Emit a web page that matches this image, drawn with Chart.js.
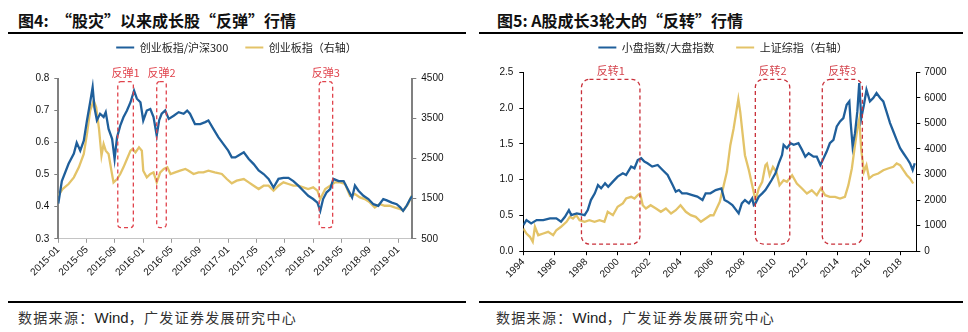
<!DOCTYPE html>
<html>
<head>
<meta charset="utf-8">
<script src="https://cdn.jsdelivr.net/npm/chart.js@4.4.1/dist/chart.umd.min.js"></script>
<style>
  html, body { margin: 0; padding: 0; background: #fff; }
  body { width: 968px; height: 332px; position: relative; overflow: hidden; }
  .title { position: absolute; top: 9px; font: 700 16px/22px "Noto Sans CJK SC", "Liberation Sans", sans-serif; color: #111; white-space: nowrap; }
  .rule { position: absolute; height: 2px; background: #000; }
  .src { position: absolute; top: 307px; font: 400 14px/20px "Noto Sans CJK SC", sans-serif; color: #333; letter-spacing: 1.3px; white-space: nowrap; }
  .src .w { font-family: "Liberation Sans", Arial, sans-serif; font-size: 15px; letter-spacing: 0; color: #222; }
  canvas { position: absolute; }
</style>
</head>
<body>
<div class="title" style="left:18px">图4:&nbsp;&nbsp;“股灾”以来成长股“反弹”行情</div>
<div class="title" style="left:497px">图5:&nbsp;A股成长3轮大的“反转”行情</div>
<div class="rule" style="left:8px; top:32px; width:458px"></div>
<div class="rule" style="left:479px; top:32px; width:484px"></div>
<div class="rule" style="left:8px; top:301px; width:458px"></div>
<div class="rule" style="left:479px; top:301px; width:484px"></div>
<div class="src" style="left:18px">数据来源：<span class="w">Wind</span>，广发证券发展研究中心</div>
<div class="src" style="left:496px">数据来源：<span class="w">Wind</span>，广发证券发展研究中心</div>

<canvas id="c1" width="473" height="290" style="left:0px; top:24.5px"></canvas>
<canvas id="c2" width="478" height="300" style="left:484px; top:19.5px"></canvas>

<script>
// ---------- Figure 4 data (x = months since 2015-01) ----------
const leftTickLabels = ['2015-01','2015-05','2015-09','2016-01','2016-05','2016-09','2017-01','2017-05','2017-09','2018-01','2018-05','2018-09','2019-01'];
const leftSeriesNames = ['创业板指/沪深300', '创业板指（右轴）'];

const leftRatioMonths = [
  0, 0.5, 1.45, 2.2, 2.6, 3.1, 3.6, 4.05, 4.5, 4.85,
  5.1, 5.45, 5.9, 6.4, 6.7, 7.1, 7.6, 7.95, 8.3, 8.75,
  9.2, 9.7, 10.2, 10.7, 11.1, 11.6, 12.0, 12.5, 13.0, 13.45,
  13.9, 14.25, 14.6, 15.1, 15.6, 16.3, 17.0, 17.7, 18.2, 18.6,
  19.3, 20.05, 20.75, 21.2, 21.9, 22.6, 23.3, 24.0, 24.5, 25.0,
  25.45, 26.2, 26.9, 27.6, 28.3, 29.0, 29.7, 30.4, 31.1, 31.8,
  32.5, 33.2, 33.9, 34.6, 35.3, 36.0, 36.6, 37.0, 37.4, 37.9,
  38.4, 38.85, 39.6, 40.3, 41.0, 41.5, 41.9, 42.4, 43.1, 43.8,
  44.5, 45.2, 45.9, 46.4, 47.1, 47.8, 48.3, 48.7, 49.2, 49.7,
  50.0
];
const leftRatio = [
  0.41, 0.48, 0.534, 0.566, 0.60, 0.575, 0.606, 0.669, 0.726, 0.773,
  0.71, 0.67, 0.69, 0.68, 0.695, 0.643, 0.612, 0.549, 0.617, 0.653,
  0.679, 0.70, 0.726, 0.762, 0.737, 0.726, 0.669, 0.70, 0.705, 0.68,
  0.622, 0.67, 0.69, 0.70, 0.674, 0.684, 0.695, 0.69, 0.70, 0.69,
  0.658, 0.658, 0.664, 0.669, 0.643, 0.617, 0.596, 0.575, 0.554, 0.554,
  0.56, 0.57, 0.549, 0.533, 0.513, 0.502, 0.487, 0.46, 0.487, 0.49,
  0.49, 0.48, 0.466, 0.45, 0.434, 0.424, 0.413, 0.387, 0.424, 0.445,
  0.455, 0.487, 0.48, 0.48, 0.45, 0.429, 0.466, 0.45, 0.434, 0.424,
  0.408, 0.403, 0.424, 0.42, 0.413, 0.408, 0.398, 0.387, 0.403, 0.424,
  0.434
];

const leftCybMonths = [
  0, 0.6, 1.45, 2.2, 2.9, 3.6, 4.05, 4.5, 5.0, 5.35,
  5.75, 6.1, 6.4, 6.7, 7.1, 7.5, 7.8, 8.3, 8.75, 9.2,
  9.7, 10.2, 10.5, 10.9, 11.4, 11.8, 12.0, 12.5, 13.0, 13.45,
  13.9, 14.4, 14.9, 15.4, 15.85, 16.5, 17.2, 17.95, 18.4, 19.1,
  19.8, 20.5, 21.2, 22.1, 23.1, 23.8, 24.5, 25.2, 26.2, 26.9,
  27.6, 28.3, 29.0, 29.7, 30.4, 31.1, 31.8, 32.5, 33.2, 33.9,
  34.6, 35.3, 36.0, 36.6, 37.0, 37.7, 38.4, 39.1, 39.8, 40.5,
  41.2, 41.9, 42.6, 43.3, 44.0, 44.7, 45.4, 46.1, 46.8, 47.5,
  48.3, 48.7, 49.4, 49.9
];
const leftCyb = [
  1575, 1742, 1867, 2033, 2283, 2617, 3117, 3700, 3950, 3783,
  3242, 2575, 2867, 2700, 2617, 2200, 1908, 1992, 2117, 2283,
  2492, 2700, 2742, 2658, 2783, 2700, 2200, 2033, 2117, 2158,
  1908, 2158, 2242, 2283, 2117, 2158, 2200, 2242, 2200, 2117,
  2158, 2158, 2200, 2158, 2117, 1992, 1883, 1950, 1992, 1908,
  1825, 1742, 1825, 1825, 1700, 1825, 1908, 1867, 1825, 1825,
  1783, 1742, 1783, 1700, 1492, 1742, 1825, 1908, 1908, 1867,
  1575, 1617, 1533, 1492, 1408, 1283, 1367, 1325, 1325, 1283,
  1242, 1200, 1367, 1575
];

const leftBoxLabels = ['反弹1', '反弹2', '反弹3'];
const leftBoxStart = [8.4, 13.9, 36.85];
const leftBoxEnd = [10.6, 15.25, 38.75];
const leftBoxRange = [0.335, 0.79];

// ---------- Figure 5 data (x = year) ----------
const rightTickLabels = ['1994','1996','1998','2000','2002','2004','2006','2008','2010','2012','2014','2016','2018'];
const rightSeriesNames = ['小盘指数/大盘指数', '上证综指（右轴）'];

const rightRatioYears = [
  1994.0, 1994.2, 1994.5, 1994.85, 1995.27, 1995.7, 1996.1, 1996.4, 1996.65, 1996.9,
  1997.05, 1997.4, 1997.7, 1997.9, 1998.1, 1998.3, 1998.55, 1998.75, 1998.95, 1999.2,
  1999.4, 1999.7, 2000.0, 2000.33, 2000.54, 2000.86, 2001.07, 2001.28, 2001.5, 2001.7,
  2001.9, 2002.2, 2002.55, 2002.86, 2003.18, 2003.5, 2003.7, 2003.9, 2004.1, 2004.4,
  2004.75, 2005.07, 2005.4, 2005.6, 2005.9, 2006.24, 2006.6, 2006.8, 2007.0, 2007.3,
  2007.7, 2007.9, 2008.1, 2008.35, 2008.56, 2008.66, 2008.77, 2008.98, 2009.2, 2009.4,
  2009.6, 2009.8, 2010.04, 2010.25, 2010.46, 2010.56, 2010.77, 2011.0, 2011.2, 2011.5,
  2011.73, 2011.94, 2012.15, 2012.46, 2012.67, 2012.9, 2013.1, 2013.3, 2013.5, 2013.73,
  2013.94, 2014.15, 2014.36, 2014.57, 2014.74, 2014.82, 2014.95, 2015.1, 2015.25, 2015.37,
  2015.5, 2015.67, 2015.83, 2016.05, 2016.26, 2016.47, 2016.7, 2016.9, 2017.1, 2017.33,
  2017.54, 2017.75, 2017.97, 2018.18, 2018.4, 2018.6, 2018.77, 2018.9
];
const rightRatio = [
  0.364, 0.434, 0.388, 0.434, 0.434, 0.458, 0.458, 0.411, 0.48, 0.574,
  0.504, 0.528, 0.514, 0.504, 0.574, 0.714, 0.808, 0.924, 0.878, 0.948,
  0.90, 0.972, 1.042, 1.088, 1.064, 1.182, 1.158, 1.274, 1.298, 1.252,
  1.228, 1.182, 1.204, 1.134, 1.064, 0.924, 0.832, 0.854, 0.808, 0.808,
  0.784, 0.762, 0.714, 0.808, 0.808, 0.854, 0.878, 0.714, 0.692, 0.644,
  0.528, 0.668, 0.714, 0.668, 0.738, 0.644, 0.668, 0.762, 0.808, 0.854,
  0.924, 0.994, 1.088, 1.228, 1.345, 1.485, 1.438, 1.508, 1.485, 1.508,
  1.415, 1.32, 1.368, 1.32, 1.32, 1.205, 1.298, 1.392, 1.508, 1.555,
  1.742, 1.812, 1.859, 2.045, 2.092, 1.812, 1.462, 1.648, 1.952, 2.349,
  1.859, 2.045, 2.255, 2.092, 2.139, 2.209, 2.139, 2.092, 1.952, 1.789,
  1.672, 1.555, 1.438, 1.368, 1.298, 1.228, 1.134, 1.228
];

const rightShYears = [
  1994.0, 1994.2, 1994.42, 1994.6, 1994.74, 1994.95, 1995.27, 1995.58, 1995.9, 1996.1,
  1996.4, 1996.75, 1996.96, 1997.16, 1997.37, 1997.58, 1997.9, 1998.2, 1998.53, 1998.85,
  1999.16, 1999.37, 1999.7, 2000.0, 2000.33, 2000.54, 2000.86, 2001.07, 2001.28, 2001.43,
  2001.6, 2001.8, 2002.1, 2002.44, 2002.75, 2003.07, 2003.4, 2003.7, 2004.0, 2004.34,
  2004.65, 2004.97, 2005.3, 2005.6, 2005.9, 2006.1, 2006.3, 2006.5, 2006.75, 2006.95,
  2007.17, 2007.38, 2007.55, 2007.68, 2007.8, 2007.96, 2008.1, 2008.35, 2008.56, 2008.77,
  2008.98, 2009.2, 2009.4, 2009.5, 2009.67, 2009.88, 2010.1, 2010.3, 2010.56, 2010.77,
  2011.1, 2011.4, 2011.73, 2012.04, 2012.35, 2012.67, 2012.93, 2013.2, 2013.5, 2013.83,
  2014.15, 2014.46, 2014.68, 2014.9, 2015.1, 2015.25, 2015.37, 2015.5, 2015.67, 2015.83,
  2016.0, 2016.26, 2016.58, 2016.9, 2017.2, 2017.54, 2017.75, 2017.97, 2018.18, 2018.4,
  2018.6, 2018.8
];
const rightSh = [
  888, 692, 563, 368, 954, 626, 692, 759, 626, 821,
  954, 1150, 1345, 1279, 1408, 1212, 1150, 1212, 1150, 1212,
  1150, 1540, 1408, 1736, 1865, 2060, 2127, 2060, 2190, 2256,
  1799, 1670, 1799, 1670, 1540, 1670, 1474, 1603, 1799, 1540,
  1408, 1345, 1150, 1279, 1408, 1400, 1670, 1932, 2581, 3104,
  4145, 4798, 5450, 5950, 5450, 4536, 3754, 3167, 2581, 1994,
  2452, 2713, 3363, 3429, 2972, 3300, 3104, 2581, 2776, 2713,
  2972, 2647, 2452, 2256, 2385, 2190, 2452, 2190, 2127, 2127,
  2060, 2127, 2581, 3234, 4145, 4798, 5150, 3950, 3104, 3363,
  2843, 2972, 3038, 3167, 3234, 3300, 3429, 3363, 3167, 2972,
  2843, 2647
];

const rightBoxLabels = ['反转1', '反转2', '反转3'];
const rightBoxStart = [1997.7, 2008.76, 2013.02];
const rightBoxEnd = [2001.42, 2010.95, 2015.57];
const rightBoxRange = [0.1, 2.4];

// ---------- helpers ----------
const BLUE = '#1f5f9b';
const YELLOW = '#e3c368';
const TICK_FONT = { family: '"Liberation Sans", Arial, sans-serif', size: 10 };
const CJK = '"Noto Sans CJK SC", sans-serif';
const pts = (xs, ys) => xs.map((x, i) => ({ x: x, y: ys[i] }));
const monthIndex = s => { const [y, m] = s.split('-').map(Number); return (y - 2015) * 12 + (m - 1); };

const boxPlugin = {
  id: 'boxes',
  afterDatasetsDraw(chart, args, o) {
    const { ctx } = chart;
    const x = chart.scales.x, y = chart.scales.y;
    ctx.save();
    o.starts.forEach((s, i) => {
      const x0 = x.getPixelForValue(s), x1 = x.getPixelForValue(o.ends[i]);
      const yTop = y.getPixelForValue(o.range[1]), yBot = y.getPixelForValue(o.range[0]);
      ctx.beginPath();
      ctx.setLineDash(o.dash);
      ctx.lineWidth = o.lineWidth;
      ctx.strokeStyle = o.color;
      if (ctx.roundRect) ctx.roundRect(x0, yTop, x1 - x0, yBot - yTop, o.radius);
      else ctx.rect(x0, yTop, x1 - x0, yBot - yTop);
      ctx.stroke();
      ctx.setLineDash([]);
      ctx.fillStyle = o.labelColor;
      ctx.font = '11px ' + CJK;
      ctx.textAlign = 'center';
      ctx.textBaseline = 'middle';
      ctx.fillText(o.labels[i], (x0 + x1) / 2, yTop - 8.5);
    });
    ctx.restore();
  }
};

function legendOpts(pad) {
  return {
    display: true,
    position: 'top',
    weight: 3000,
    labels: {
      boxWidth: 18,
      boxHeight: 2,
      padding: pad,
      color: '#222',
      font: { family: CJK, size: 11 },
      generateLabels(chart) {
        return Chart.defaults.plugins.legend.labels.generateLabels(chart).map(l => Object.assign(l, { lineWidth: 0, fillStyle: l.strokeStyle }));
      }
    }
  };
}

function fixW(w) { return s => { s.width = w; }; }
function fixH(h) { return s => { s.height = h; }; }

// ---------- Figure 4 ----------
new Chart(document.getElementById('c1'), {
  type: 'line',
  data: {
    datasets: [
      { label: leftSeriesNames[0], data: pts(leftRatioMonths, leftRatio), yAxisID: 'y', borderColor: BLUE, backgroundColor: BLUE, borderWidth: 2.3, pointRadius: 0, order: 1 },
      { label: leftSeriesNames[1], data: pts(leftCybMonths, leftCyb), yAxisID: 'y1', borderColor: YELLOW, backgroundColor: YELLOW, borderWidth: 2.3, pointRadius: 0, order: 2 }
    ]
  },
  options: {
    responsive: false,
    animation: false,
    events: [],
    layout: { padding: 0 },
    plugins: {
      legend: legendOpts(17),
      subtitle: { display: true, text: '', font: { size: 1, lineHeight: 1 }, padding: { top: 14.5, bottom: 0 } },
      tooltip: { enabled: false },
      boxes: { starts: leftBoxStart, ends: leftBoxEnd, range: leftBoxRange, labels: leftBoxLabels, color: '#e0434c', labelColor: '#e0434c', dash: [4, 3], lineWidth: 1.3, radius: 3 }
    },
    scales: {
      x: {
        type: 'linear', min: 0, max: 50,
        afterBuildTicks: s => { s.ticks = leftTickLabels.map(l => ({ value: monthIndex(l) })); },
        afterFit: fixH(76.2),
        ticks: { autoSkip: false, minRotation: 45, maxRotation: 45, padding: 1, color: '#111', font: TICK_FONT,
          callback: v => leftTickLabels.find(l => monthIndex(l) === v) || '' },
        grid: { drawOnChartArea: false, drawTicks: true, tickLength: 4, tickColor: '#9a9a9a' },
        border: { display: true, color: '#c4c4c4', width: 1 }
      },
      y: {
        position: 'left', min: 0.3, max: 0.8,
        afterFit: fixW(58.3),
        ticks: { stepSize: 0.1, padding: 5, color: '#111', font: TICK_FONT, callback: v => Number(v).toFixed(1) },
        grid: { drawOnChartArea: false, drawTicks: true, tickLength: 4, tickColor: '#7f7f7f' },
        border: { display: true, color: '#808080', width: 2 }
      },
      y1: {
        position: 'right', min: 500, max: 4500,
        afterFit: fixW(60.7),
        ticks: { stepSize: 1000, padding: 5, color: '#111', font: TICK_FONT, callback: v => String(Math.round(v)) },
        grid: { drawOnChartArea: false, drawTicks: true, tickLength: 4, tickColor: '#7f7f7f' },
        border: { display: true, color: '#808080', width: 2 }
      }
    }
  },
  plugins: [boxPlugin]
});

// ---------- Figure 5 ----------
new Chart(document.getElementById('c2'), {
  type: 'line',
  data: {
    datasets: [
      { label: rightSeriesNames[0], data: pts(rightRatioYears, rightRatio), yAxisID: 'y', borderColor: BLUE, backgroundColor: BLUE, borderWidth: 2.3, pointRadius: 0, order: 1 },
      { label: rightSeriesNames[1], data: pts(rightShYears, rightSh), yAxisID: 'y1', borderColor: YELLOW, backgroundColor: YELLOW, borderWidth: 2.3, pointRadius: 0, order: 2 }
    ]
  },
  options: {
    responsive: false,
    animation: false,
    events: [],
    layout: { padding: 0 },
    plugins: {
      legend: legendOpts(22),
      subtitle: { display: true, text: '', font: { size: 1, lineHeight: 1 }, padding: { top: 8.2, bottom: 0 } },
      tooltip: { enabled: false },
      boxes: { starts: rightBoxStart, ends: rightBoxEnd, range: rightBoxRange, labels: rightBoxLabels, color: '#c9303a', labelColor: '#d4454e', dash: [4, 3], lineWidth: 1.3, radius: 8 }
    },
    scales: {
      x: {
        type: 'linear', min: 1994, max: 2019,
        afterBuildTicks: s => { s.ticks = rightTickLabels.map(l => ({ value: Number(l) })); },
        afterFit: fixH(68.8),
        ticks: { autoSkip: false, minRotation: 45, maxRotation: 45, padding: 1, color: '#111', font: TICK_FONT,
          callback: v => String(v) },
        grid: { drawOnChartArea: false, drawTicks: true, tickLength: 4, tickColor: '#000' },
        border: { display: true, color: '#000', width: 1 }
      },
      y: {
        position: 'left', min: 0, max: 2.5,
        afterFit: fixW(39.3),
        ticks: { stepSize: 0.5, padding: 6, color: '#111', font: TICK_FONT, callback: v => Number(v).toFixed(1) },
        grid: { drawOnChartArea: false, drawTicks: true, tickLength: 4, tickColor: '#000' },
        border: { display: true, color: '#000', width: 1 }
      },
      y1: {
        position: 'right', min: 0, max: 7000,
        afterFit: fixW(45.7),
        ticks: { stepSize: 1000, padding: 4, color: '#111', font: TICK_FONT, callback: v => String(Math.round(v)) },
        grid: { drawOnChartArea: false, drawTicks: true, tickLength: 4, tickColor: '#000' },
        border: { display: true, color: '#000', width: 1 }
      }
    }
  },
  plugins: [boxPlugin]
});
</script>
</body>
</html>
